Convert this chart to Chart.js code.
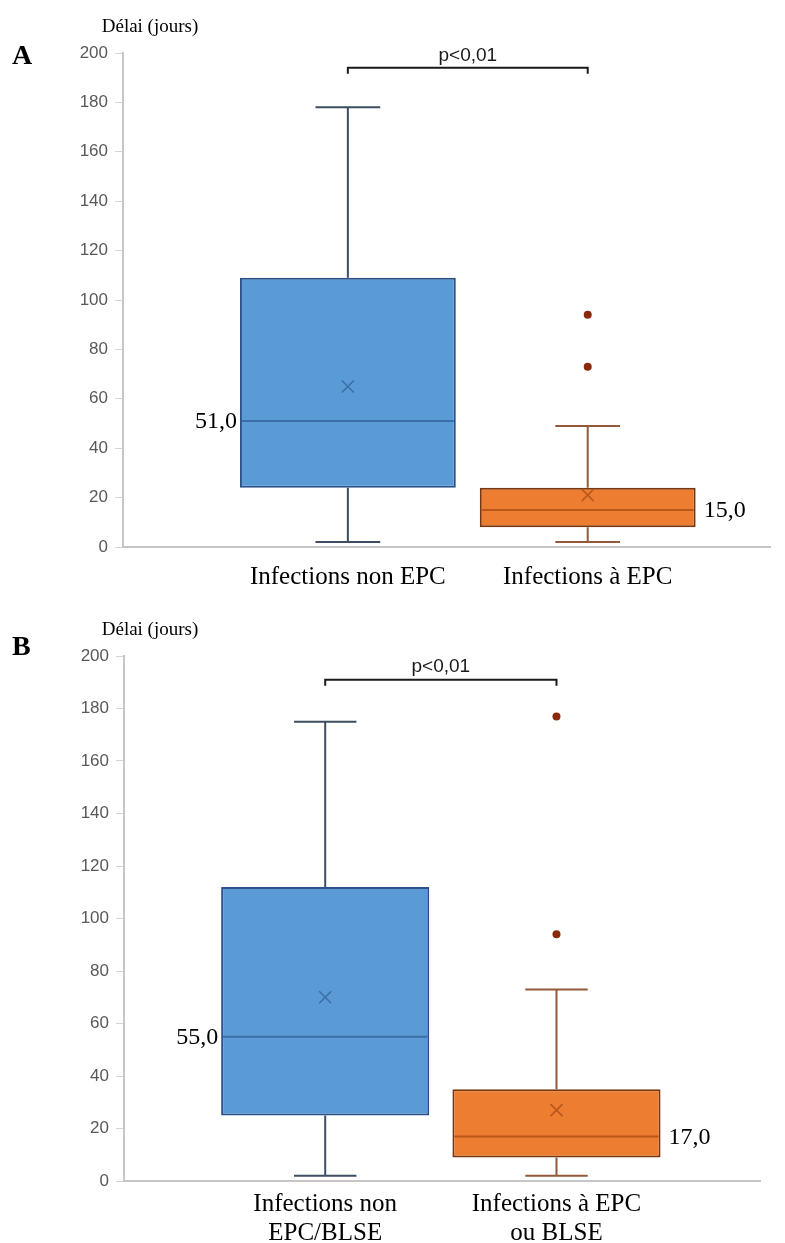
<!DOCTYPE html>
<html>
<head>
<meta charset="utf-8">
<script src="https://cdn.jsdelivr.net/npm/chart.js@4.4.1/dist/chart.umd.min.js"></script>
<style>
  html, body { margin: 0; padding: 0; background: #fff; }
  #wrapA { position: absolute; left: 0; top: 0; width: 785px; height: 600px; }
  #wrapB { position: absolute; left: 0; top: 600px; width: 785px; height: 643px; }
</style>
</head>
<body>
<div id="wrapA"><canvas id="chartA"></canvas></div>
<div id="wrapB"><canvas id="chartB"></canvas></div>
<script>
// Panel A - délai (jours)
const categoriesA = ['Infections non EPC', 'Infections à EPC'];
const minA = [2, 2];
const q1A = [24, 8];
const medianA = [51, 15];
const q3A = [109, 24];
const maxA = [178, 49];
const meanA = [65, 21];
const outliersA = [[], [73, 94]];

// Panel B
const categoriesB = [['Infections non', 'EPC/BLSE'], ['Infections à EPC', 'ou BLSE']];
const minB = [2, 2];
const q1B = [25, 9];
const medianB = [55, 17];
const q3B = [112, 35];
const maxB = [175, 73];
const meanB = [70, 27];
const outliersB = [[], [94, 177]];

const yTicks = [0, 20, 40, 60, 80, 100, 120, 140, 160, 180, 200];

// couleurs
const boxFill = ['#5b9bd5', '#ed7d31'];
const boxBorder = ['#2a5288', '#7a360c'];
const medianColor = ['#3a6ea6', '#b9561a'];
const whiskerColor = ['#3d4e62', '#94583a'];
const outlierColor = '#8a2a0c';

const SERIF = 'Liberation Serif, Times New Roman, serif';
const SANS = 'Liberation Sans, Arial, sans-serif';

// moustaches, médiane, moyenne, étiquettes, crochet p
const boxExtras = {
  id: 'boxExtras',
  afterDatasetsDraw(chart, args, o) {
    const ctx = chart.ctx;
    const ys = chart.scales.y;
    const xs = chart.scales.x;
    const meta = chart.getDatasetMeta(0);
    ctx.save();
    meta.data.forEach((bar, i) => {
      const cx = bar.x, w = bar.width;
      const left = cx - w / 2, right = cx + w / 2;
      const cap = w * 0.3;
      const yMax = ys.getPixelForValue(o.max[i]);
      const yMin = ys.getPixelForValue(o.min[i]);
      const yQ1 = ys.getPixelForValue(o.q1[i]);
      const yQ3 = ys.getPixelForValue(o.q3[i]);
      const yMed = ys.getPixelForValue(o.median[i]);
      const yMean = ys.getPixelForValue(o.mean[i]);

      ctx.strokeStyle = whiskerColor[i];
      ctx.lineWidth = 2;
      ctx.beginPath();
      ctx.moveTo(cx, yQ3); ctx.lineTo(cx, yMax);
      ctx.moveTo(cx - cap / 2, yMax); ctx.lineTo(cx + cap / 2, yMax);
      ctx.moveTo(cx, yQ1); ctx.lineTo(cx, yMin);
      ctx.moveTo(cx - cap / 2, yMin); ctx.lineTo(cx + cap / 2, yMin);
      ctx.stroke();

      ctx.strokeStyle = medianColor[i];
      ctx.lineWidth = 2;
      ctx.beginPath();
      ctx.moveTo(left + 2, yMed); ctx.lineTo(right - 2, yMed);
      ctx.stroke();

      // moyenne (x)
      ctx.lineWidth = 1.5;
      ctx.beginPath();
      ctx.moveTo(cx - 6, yMean - 6); ctx.lineTo(cx + 6, yMean + 6);
      ctx.moveTo(cx + 6, yMean - 6); ctx.lineTo(cx - 6, yMean + 6);
      ctx.stroke();

      // valeur de la médiane
      ctx.fillStyle = '#000';
      ctx.font = '24px ' + SERIF;
      ctx.textBaseline = 'middle';
      const txt = o.median[i].toFixed(1).replace('.', ',');
      if (i === 0) {
        ctx.textAlign = 'right';
        ctx.fillText(txt, left - 3, yMed + 1);
      } else {
        ctx.textAlign = 'left';
        ctx.fillText(txt, right + 8, yMed + 1);
      }
    });

    // crochet de significativité
    const x1 = xs.getPixelForValue(1), x2 = xs.getPixelForValue(2);
    const yb = ys.getPixelForValue(o.pLevel);
    ctx.strokeStyle = '#1a1a1a';
    ctx.lineWidth = 2;
    ctx.beginPath();
    ctx.moveTo(x1, yb + 6); ctx.lineTo(x1, yb); ctx.lineTo(x2, yb); ctx.lineTo(x2, yb + 6);
    ctx.stroke();
    ctx.fillStyle = '#1a1a1a';
    ctx.font = '19px ' + SANS;
    ctx.textAlign = 'center';
    ctx.textBaseline = 'bottom';
    ctx.fillText(o.pText, (x1 + x2) / 2 + o.pShift, yb - 3);

    // lettre du panneau et titre de l'axe
    ctx.fillStyle = '#000';
    ctx.textAlign = 'left';
    ctx.textBaseline = 'middle';
    ctx.font = 'bold 28px ' + SERIF;
    ctx.fillText(o.letter, 12, o.letterY);
    ctx.font = '19px ' + SERIF;
    ctx.textAlign = 'center';
    ctx.fillText('Délai (jours)', 150, o.titleY);
    ctx.restore();
  }
};

function makeChart(id, cats, mins, q1s, meds, q3s, maxs, means, outs, cfg) {
  const ctx = document.getElementById(id).getContext('2d');
  return new Chart(ctx, {
    type: 'bar',
    data: {
      datasets: [{
        data: cats.map((c, i) => ({ x: i + 1, y: [q1s[i], q3s[i]] })),
        backgroundColor: boxFill,
        borderColor: boxBorder,
        borderWidth: 2,
        borderSkipped: false,
        barPercentage: 0.9,
        categoryPercentage: 1
      }, {
        type: 'scatter',
        data: outs.flatMap((vals, i) => vals.map(v => ({ x: i + 1, y: v }))),
        backgroundColor: outlierColor,
        borderWidth: 0,
        pointRadius: 4
      }]
    },
    options: {
      responsive: true,
      maintainAspectRatio: false,
      animation: false,
      events: [],
      layout: { padding: cfg.padding },
      plugins: {
        legend: { display: false },
        tooltip: { enabled: false },
        boxExtras: {
          min: mins, q1: q1s, median: meds, q3: q3s, max: maxs, mean: means,
          pLevel: cfg.pLevel, pText: 'p<0,01', pShift: cfg.pShift,
          letter: cfg.letter, letterY: cfg.letterY, titleY: cfg.titleY
        }
      },
      scales: {
        x: {
          type: 'linear',
          offset: false,
          bounds: 'data',
          min: cfg.xMin,
          max: cfg.xMax,
          afterBuildTicks: s => { s.ticks = cats.map((c, i) => ({ value: i + 1 })); },
          afterFit: s => { s.height = cfg.xHeight; },
          grid: { offset: false, drawOnChartArea: false, drawTicks: false },
          border: { color: '#c6c6c6', width: 2 },
          ticks: {
            padding: cfg.xPad,
            color: '#000',
            maxRotation: 0,
            autoSkip: false,
            font: { family: SERIF, size: 25, lineHeight: 1.15 },
            callback: v => cats[v - 1]
          }
        },
        y: {
          min: 0,
          max: 200,
          afterBuildTicks: s => { s.ticks = yTicks.map(v => ({ value: v })); },
          afterFit: s => { s.width = 60; },
          grid: { drawOnChartArea: false, drawTicks: true, tickLength: 8, color: '#d4d4d4' },
          border: { color: '#c6c6c6', width: 2 },
          ticks: { padding: 7, color: '#595959', font: { family: SANS, size: 17 } }
        }
      }
    },
    plugins: [boxExtras]
  });
}

makeChart('chartA', categoriesA, minA, q1A, medianA, q3A, maxA, meanA, outliersA, {
  padding: { top: 53, left: 63, right: 15, bottom: 0 },
  xMin: 0.0625, xMax: 2.76, xHeight: 53, xPad: 16,
  pLevel: 194, pShift: 0, letter: 'A', letterY: 57, titleY: 27
});

makeChart('chartB', categoriesB, minB, q1B, medianB, q3B, maxB, meanB, outliersB, {
  padding: { top: 56, left: 64, right: 25, bottom: 0 },
  xMin: 0.13, xMax: 2.88, xHeight: 62, xPad: 9,
  pLevel: 191, pShift: 0, letter: 'B', letterY: 48, titleY: 30
});
</script>
</body>
</html>
